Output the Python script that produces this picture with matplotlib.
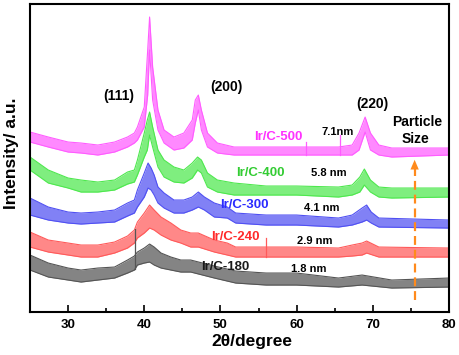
import numpy as np
import matplotlib
matplotlib.use("Agg")
import matplotlib.pyplot as plt

plt.rcParams['font.family'] = ['Liberation Sans', 'DejaVu Sans']
plt.rcParams['font.weight'] = 'bold'

# XRD patterns read off the picture as noise bands: 2theta knots with the
# lower and upper edge of each (stacked, arbitrary intensity units)
x_500 = [25, 27.4, 30, 31.7, 33.9, 36.1, 37.8, 38.7, 39.1, 40.0, 40.45, 40.7, 41.1, 41.8,
         42.6, 43.9, 45.2, 46.3, 46.7, 47.1, 47.5, 48.3, 49.6, 51.8, 56, 60, 65.5, 67.3,
         68.2, 69.0, 69.7, 70.8, 72.5, 80]
lo_500 = [170, 165, 160, 159, 157, 160, 165, 169, 172, 185, 217, 262, 212, 182,
          169, 162, 164, 172, 189, 202, 182, 165, 159, 157, 157, 157, 157, 157,
          162, 180, 162, 157, 155, 157]
hi_500 = [180, 175, 170, 169, 167, 170, 175, 179, 185, 205, 262, 295, 245, 202,
          182, 175, 179, 192, 212, 217, 202, 179, 169, 165, 165, 165, 165, 167,
          179, 195, 179, 167, 164, 164]

x_400 = [25, 27.4, 30, 31.7, 33.9, 36.1, 37.8, 38.7, 39.1, 40.0, 40.4, 40.7, 41.1, 41.8,
         42.6, 43.9, 45.2, 46.3, 47.0, 47.5, 48.3, 49.6, 51.8, 56, 60, 65.5, 67.3,
         68.3, 68.9, 69.7, 70.8, 72.5, 80]
lo_400 = [142, 129, 124, 120, 120, 122, 128, 130, 137, 155, 162, 177, 165, 145,
          135, 130, 129, 134, 142, 139, 125, 120, 117, 117, 117, 115, 117,
          120, 127, 120, 115, 114, 115]
hi_400 = [155, 142, 134, 132, 130, 132, 140, 142, 152, 179, 192, 200, 185, 162,
          152, 145, 142, 149, 155, 152, 139, 132, 129, 126, 126, 125, 127,
          135, 143, 132, 125, 124, 124]

x_300 = [25, 27.4, 30, 31.7, 33.9, 36.1, 37.8, 38.7, 39.1, 40.0, 40.5, 40.9, 41.3, 41.8,
         42.6, 43.9, 45.2, 46.3, 47.1, 47.9, 49.2, 50.9, 52, 56, 60, 65.5, 67.3,
         68.6, 69.2, 69.8, 70.8, 80]
lo_300 = [97, 92, 89, 88, 89, 90, 96, 99, 105, 115, 124, 122, 117, 109,
          104, 99, 99, 102, 105, 102, 95, 94, 89, 87, 87, 85, 87,
          90, 92, 89, 85, 84]
hi_300 = [114, 105, 100, 99, 100, 102, 109, 112, 122, 139, 149, 144, 137, 125,
          119, 112, 112, 115, 120, 115, 109, 105, 99, 97, 97, 94, 97,
          104, 107, 100, 94, 92]

x_240 = [25, 27.4, 30, 31.7, 33.9, 36.1, 37.8, 38.7, 39.1, 40.0, 40.7, 41.3, 42.2, 43.5,
         44.8, 46.1, 47.1, 49.2, 50.9, 52, 56, 60, 65.5, 67.3, 68.6, 69.2, 70.0, 70.8, 80]
lo_240 = [65, 60, 57, 55, 55, 59, 64, 69, 74, 79, 84, 82, 77, 72,
          69, 65, 65, 60, 57, 55, 55, 55, 55, 56, 57, 59, 57, 55, 55]
hi_240 = [80, 72, 69, 67, 67, 70, 76, 82, 90, 99, 107, 102, 95, 89,
          82, 79, 79, 72, 69, 65, 65, 65, 64, 67, 69, 71, 68, 65, 64]

x_180 = [25, 27.4, 30, 31.7, 33.9, 36.1, 37.8, 38.7, 39.1, 40.0, 40.7, 41.3, 42.2, 43.5,
         44.8, 46.1, 49.2, 52, 56, 60, 65.5, 68.6, 72.5, 80]
lo_180 = [42, 35, 32, 30, 32, 34, 39, 42, 47, 49, 50, 47, 44, 42,
          40, 40, 34, 29, 27, 27, 25, 27, 24, 25]
hi_180 = [57, 49, 44, 42, 44, 45, 52, 56, 60, 64, 68, 65, 59, 55,
          52, 52, 46, 41, 39, 39, 34, 37, 32, 34]

# single-point spikes (2theta, top)
spikes_500 = [(61.3, 170), (65.7, 177)]
spikes_240 = [(56.0, 74)]
spikes_180 = [(38.8, 83)]

samples = ['Ir/C-500', 'Ir/C-400', 'Ir/C-300', 'Ir/C-240', 'Ir/C-180']
sizes = ['7.1nm', '5.8 nm', '4.1 nm', '2.9 nm', '1.8 nm']
line_cols = ['#ff5cff', '#4ee84e', '#5050f2', '#ff5a5a', '#555555']
text_cols = ['#ff33ff', '#33cc33', '#2b2bff', '#ff2b2b', '#1a1a1a']
bands = [(x_500, lo_500, hi_500, spikes_500), (x_400, lo_400, hi_400, []),
         (x_300, lo_300, hi_300, []), (x_240, lo_240, hi_240, spikes_240),
         (x_180, lo_180, hi_180, spikes_180)]

fig = plt.figure(figsize=(4.59, 3.55), dpi=100)
ax = fig.add_axes([0.0654, 0.121, 0.9126, 0.8677])

for (xs, lo, hi, spk), c in zip(bands, line_cols):
    ax.fill_between(xs, lo, hi, color=c, alpha=0.72, lw=0)
    ax.plot(xs, lo, color=c, lw=0.8)
    ax.plot(xs, hi, color=c, lw=0.8)
    for sx, sy in spk:
        base = np.interp(sx, xs, lo)
        ax.plot([sx, sx], [base, sy], color=c, lw=0.9)

# sample labels and crystallite sizes
name_pos = [(57.6, 175), (55.3, 139), (53.2, 107), (51.9, 75), (50.6, 45)]
size_pos = [(65.4, 180), (64.2, 139), (63.3, 104), (62.4, 71), (61.6, 43)]
for s, p, c in zip(samples, name_pos, text_cols):
    ax.text(p[0], p[1], s, color=c, fontsize=9.5, ha='center', va='center')
for s, p in zip(sizes, size_pos):
    ax.text(p[0], p[1], s, color='black', fontsize=8, ha='center', va='center')

ax.text(36.6, 216, '(111)', fontsize=10, ha='center', va='center')
ax.text(50.75, 225, '(200)', fontsize=10, ha='center', va='center')
ax.text(69.9, 208, '(220)', fontsize=10, ha='center', va='center')
ax.text(75.8, 190, 'Particle', fontsize=10, ha='center', va='center')
ax.text(75.6, 173, 'Size', fontsize=10, ha='center', va='center')

# dashed arrow for increasing particle size
ax.plot([75.5, 75.5], [12, 143], color='#ff8a1c', lw=1.6, ls=(0, (4, 2.2)))
ax.annotate('', xy=(75.5, 155), xytext=(75.5, 141),
            arrowprops=dict(arrowstyle='-|>,head_length=0.7,head_width=0.3',
                            color='#ff8a1c', lw=0))

ax.set_xlim(25, 80)
ax.set_ylim(0, 308)
ax.set_xticks([30, 40, 50, 60, 70, 80])
ax.set_xticks([35, 45, 55, 65, 75], minor=True)
ax.set_yticks([])
ax.tick_params(axis='x', which='major', direction='in', length=5, width=1.2,
               labelsize=9.5, pad=5)
ax.tick_params(axis='x', which='minor', direction='in', length=3, width=1.2)
for sp in ax.spines.values():
    sp.set_linewidth(1.5)

ax.text(0.529, -0.097, '2θ/degree', transform=ax.transAxes, fontsize=12.5,
        ha='center', va='center')
ax.text(-0.045, 0.516, 'Intensity/ a.u.', transform=ax.transAxes, fontsize=12.5,
        rotation=90, ha='center', va='center')

fig.savefig('out.png', dpi=100)
